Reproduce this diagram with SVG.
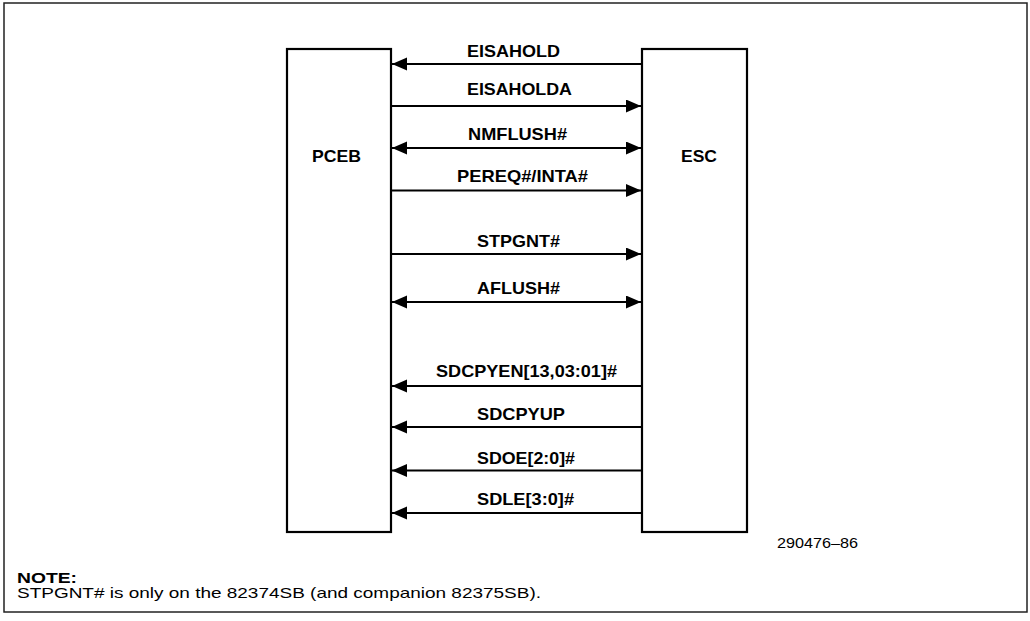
<svg xmlns="http://www.w3.org/2000/svg" width="1030" height="621" viewBox="0 0 1030 621">
<style>
.box{fill:#fff;stroke:#000;stroke-width:2.2}
.frame{fill:#fff;stroke:#222;stroke-width:1.5}
.lbl{font-family:"Liberation Sans",Arial,Helvetica,sans-serif;font-weight:bold;font-size:17px;fill:#000;text-anchor:start}
.name{font-family:"Liberation Sans",Arial,Helvetica,sans-serif;font-weight:bold;font-size:17px;fill:#000}
.note{font-family:"Liberation Sans",Arial,Helvetica,sans-serif;font-size:15px;fill:#000}
.w{stroke:#000;stroke-width:2;fill:none}
.r{marker-end:url(#ah)}
.l{marker-end:url(#ah)}
.b{marker-start:url(#ah);marker-end:url(#ah)}
</style>
<defs>
<marker id="ah" markerUnits="userSpaceOnUse" markerWidth="16" markerHeight="14" refX="15" refY="6.5" orient="auto-start-reverse">
<path d="M0,0 L15,6.5 L0,13 Z" fill="#000"/>
</marker>
</defs>
<rect class="frame" x="4" y="3" width="1023" height="609"/>
<g id="pceb">
<rect class="box" x="287" y="49" width="104" height="483"/>
<text class="name" x="312" y="162" textLength="49" lengthAdjust="spacingAndGlyphs">PCEB</text>
</g>
<g id="esc">
<rect class="box" x="642" y="49" width="105" height="483"/>
<text class="name" x="681" y="162" textLength="36" lengthAdjust="spacingAndGlyphs">ESC</text>
</g>
<g id="connectors">
<line class="w l" x1="642" y1="64" x2="392" y2="64"/>
<line class="w r" x1="391" y1="106" x2="641" y2="106"/>
<line class="w b" x1="392" y1="148" x2="641" y2="148"/>
<line class="w r" x1="391" y1="190.5" x2="641" y2="190.5"/>
<line class="w r" x1="391" y1="254" x2="641" y2="254"/>
<line class="w b" x1="392" y1="302" x2="641" y2="302"/>
<line class="w l" x1="642" y1="386" x2="392" y2="386"/>
<line class="w l" x1="642" y1="427" x2="392" y2="427"/>
<line class="w l" x1="642" y1="470.5" x2="392" y2="470.5"/>
<line class="w l" x1="642" y1="513" x2="392" y2="513"/>
</g>
<g id="labels">
<text class="lbl" x="467" y="57" textLength="93" lengthAdjust="spacingAndGlyphs">EISAHOLD</text>
<text class="lbl" x="467" y="95" textLength="105" lengthAdjust="spacingAndGlyphs">EISAHOLDA</text>
<text class="lbl" x="468" y="140" textLength="99" lengthAdjust="spacingAndGlyphs">NMFLUSH#</text>
<text class="lbl" x="457" y="182" textLength="131" lengthAdjust="spacingAndGlyphs">PEREQ#/INTA#</text>
<text class="lbl" x="477" y="247" textLength="83" lengthAdjust="spacingAndGlyphs">STPGNT#</text>
<text class="lbl" x="477" y="294" textLength="83" lengthAdjust="spacingAndGlyphs">AFLUSH#</text>
<text class="lbl" x="436" y="377" textLength="181" lengthAdjust="spacingAndGlyphs">SDCPYEN[13,03:01]#</text>
<text class="lbl" x="477" y="419.5" textLength="88" lengthAdjust="spacingAndGlyphs">SDCPYUP</text>
<text class="lbl" x="477" y="463.5" textLength="98" lengthAdjust="spacingAndGlyphs">SDOE[2:0]#</text>
<text class="lbl" x="477" y="505" textLength="97" lengthAdjust="spacingAndGlyphs">SDLE[3:0]#</text>
</g>
<text class="note" x="777" y="548" textLength="81" lengthAdjust="spacingAndGlyphs">290476–86</text>
<text class="note" x="17" y="583" font-weight="bold" textLength="60" lengthAdjust="spacingAndGlyphs">NOTE:</text>
<text class="note" x="17" y="598" textLength="524" lengthAdjust="spacingAndGlyphs">STPGNT# is only on the 82374SB (and companion 82375SB).</text>
</svg>
